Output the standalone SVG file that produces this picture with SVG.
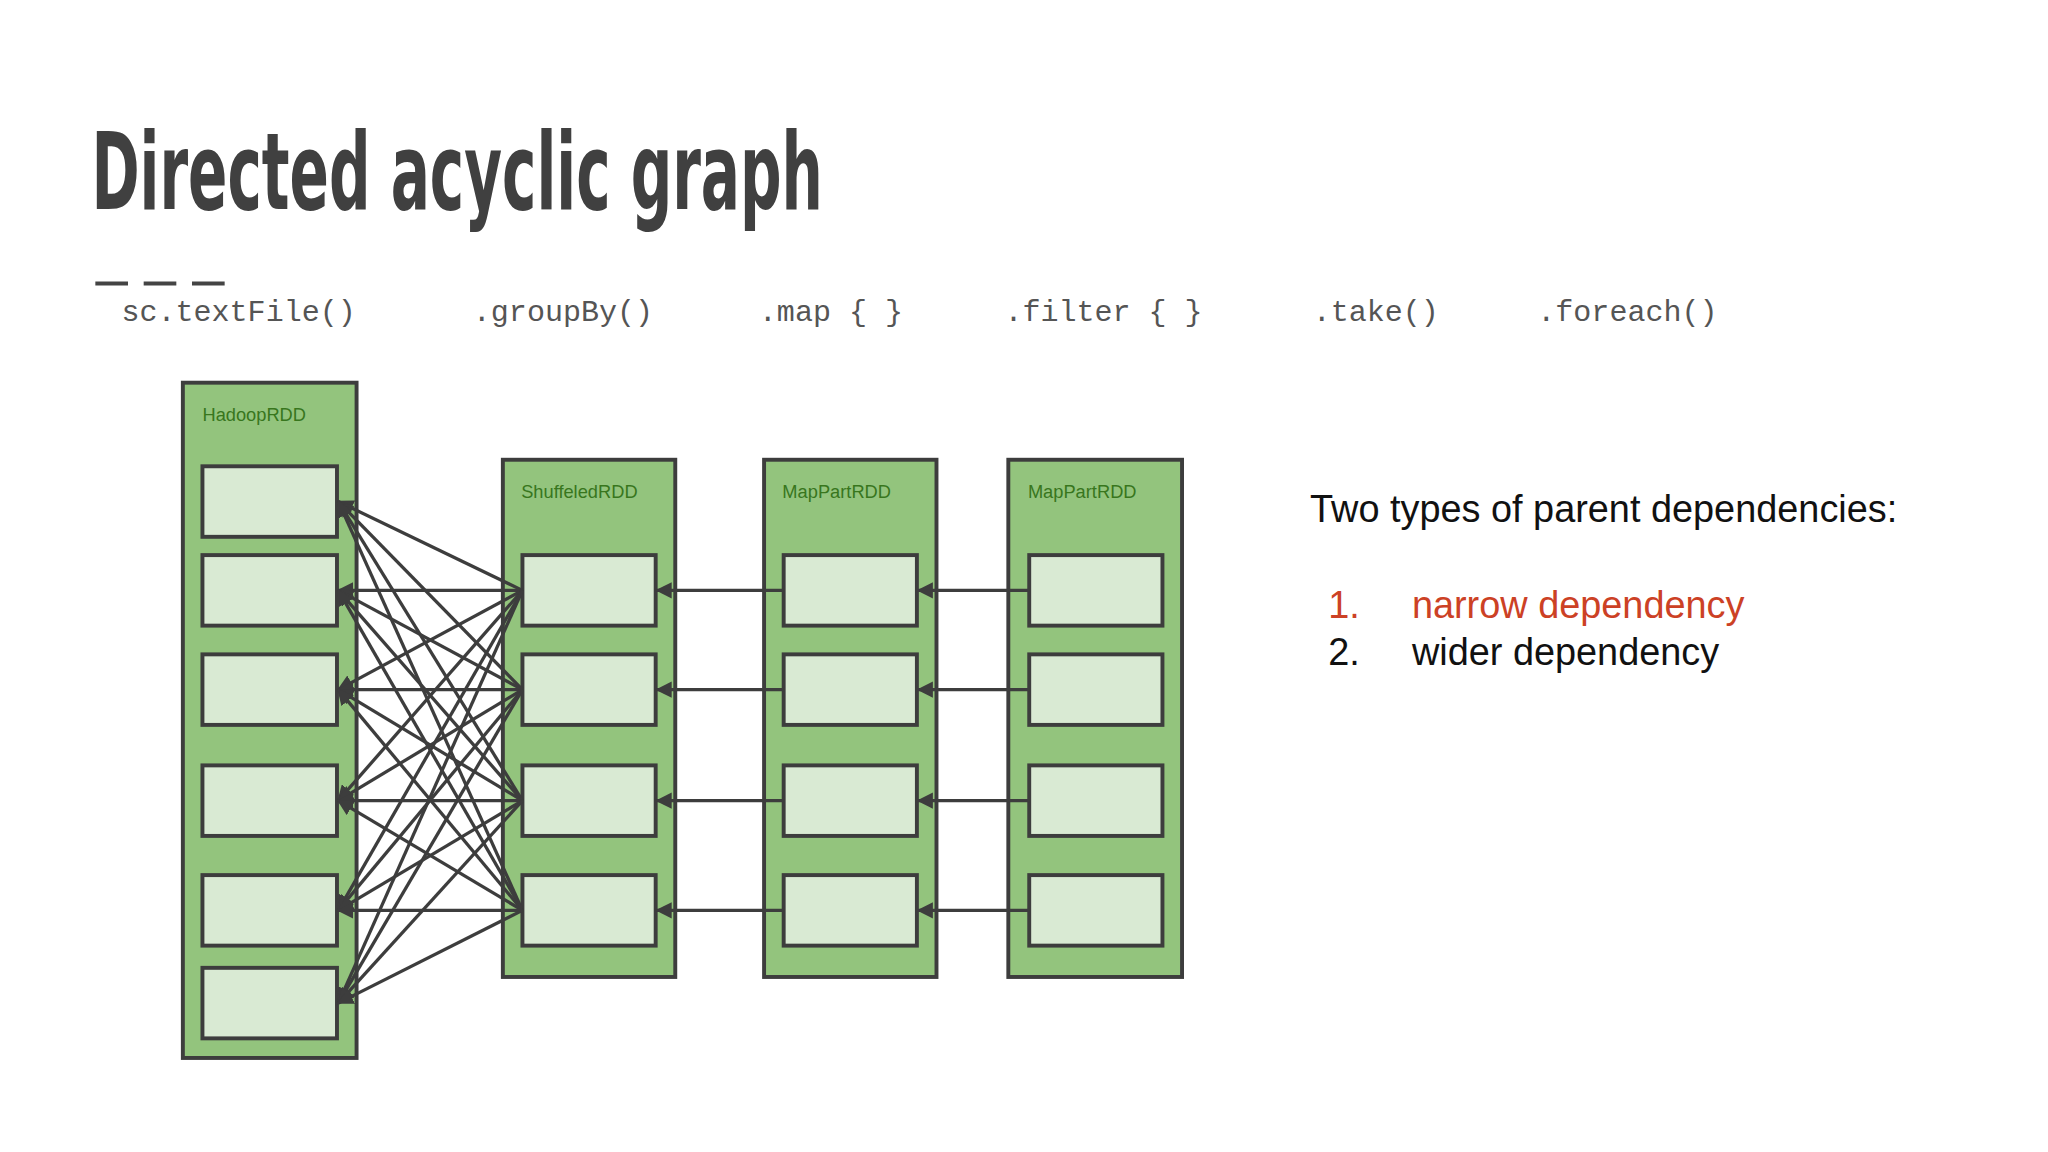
<svg xmlns="http://www.w3.org/2000/svg" width="2048" height="1152" viewBox="0 0 2048 1152">
<defs>
<style>
.outer{fill:#93c47d;stroke:#3d3d3d;stroke-width:3}
.cell{fill:#d9ead3;stroke:#3d3d3d;stroke-width:3}
.lbl{font-family:"Liberation Sans",Arial,sans-serif;font-size:14px;fill:#38761d}
.code{font-family:"Liberation Mono","Courier New",monospace;font-size:23px;fill:#555}
.body{font-family:"Liberation Sans",Arial,sans-serif;font-size:29px;fill:#111}
.conn line{stroke:#3d3d3d;stroke-width:2.5;marker-end:url(#ah)}
</style>
<marker id="ah" viewBox="0 0 10 10" refX="9" refY="5" markerWidth="5" markerHeight="5" orient="auto" markerUnits="strokeWidth"><path d="M0,0L10,5L0,10z" fill="#3d3d3d"/></marker>
</defs>
<rect width="2048" height="1152" fill="#fff"/>
<g transform="scale(1.30612)">
<text x="70" y="160" font-family="'DejaVu Sans Condensed','Liberation Sans',sans-serif" font-weight="bold" font-size="82" fill="#404040" textLength="560" lengthAdjust="spacingAndGlyphs">Directed acyclic graph</text>
<g stroke="#444" stroke-width="3"><line x1="73" y1="217" x2="98" y2="217"/><line x1="110" y1="217" x2="135" y2="217"/><line x1="147" y1="217" x2="172" y2="217"/></g>
<text class="code" x="93" y="246">sc.textFile()</text>
<text class="code" x="362" y="246">.groupBy()</text>
<text class="code" x="581" y="246">.map { }</text>
<text class="code" x="769" y="246">.filter { }</text>
<text class="code" x="1005" y="246">.take()</text>
<text class="code" x="1177" y="246">.foreach()</text>

<g id="hadoop">
<rect class="outer" x="140" y="293" width="133" height="517"/>
<text class="lbl" x="155" y="322">HadoopRDD</text>
<rect class="cell" x="155" y="357" width="103" height="54"/>
<rect class="cell" x="155" y="425" width="103" height="54"/>
<rect class="cell" x="155" y="501" width="103" height="54"/>
<rect class="cell" x="155" y="586" width="103" height="54"/>
<rect class="cell" x="155" y="670" width="103" height="54"/>
<rect class="cell" x="155" y="741" width="103" height="54"/>
</g>
<g id="shuffled">
<rect class="outer" x="385" y="352" width="132" height="396"/>
<text class="lbl" x="399" y="381">ShuffeledRDD</text>
<rect class="cell" x="400" y="425" width="102" height="54"/>
<rect class="cell" x="400" y="501" width="102" height="54"/>
<rect class="cell" x="400" y="586" width="102" height="54"/>
<rect class="cell" x="400" y="670" width="102" height="54"/>
</g>
<g id="map1">
<rect class="outer" x="585" y="352" width="132" height="396"/>
<text class="lbl" x="599" y="381">MapPartRDD</text>
<rect class="cell" x="600" y="425" width="102" height="54"/>
<rect class="cell" x="600" y="501" width="102" height="54"/>
<rect class="cell" x="600" y="586" width="102" height="54"/>
<rect class="cell" x="600" y="670" width="102" height="54"/>
</g>
<g id="map2">
<rect class="outer" x="772" y="352" width="133" height="396"/>
<text class="lbl" x="787" y="381">MapPartRDD</text>
<rect class="cell" x="788" y="425" width="102" height="54"/>
<rect class="cell" x="788" y="501" width="102" height="54"/>
<rect class="cell" x="788" y="586" width="102" height="54"/>
<rect class="cell" x="788" y="670" width="102" height="54"/>
</g>

<g class="conn" id="connectors">
<line x1="400" y1="452" x2="259" y2="384"/><line x1="400" y1="452" x2="259" y2="452"/><line x1="400" y1="452" x2="259" y2="528"/><line x1="400" y1="452" x2="259" y2="613"/><line x1="400" y1="452" x2="259" y2="697"/><line x1="400" y1="452" x2="259" y2="768"/>
<line x1="400" y1="528" x2="259" y2="384"/><line x1="400" y1="528" x2="259" y2="452"/><line x1="400" y1="528" x2="259" y2="528"/><line x1="400" y1="528" x2="259" y2="613"/><line x1="400" y1="528" x2="259" y2="697"/><line x1="400" y1="528" x2="259" y2="768"/>
<line x1="400" y1="613" x2="259" y2="384"/><line x1="400" y1="613" x2="259" y2="452"/><line x1="400" y1="613" x2="259" y2="528"/><line x1="400" y1="613" x2="259" y2="613"/><line x1="400" y1="613" x2="259" y2="697"/><line x1="400" y1="613" x2="259" y2="768"/>
<line x1="400" y1="697" x2="259" y2="384"/><line x1="400" y1="697" x2="259" y2="452"/><line x1="400" y1="697" x2="259" y2="528"/><line x1="400" y1="697" x2="259" y2="613"/><line x1="400" y1="697" x2="259" y2="697"/><line x1="400" y1="697" x2="259" y2="768"/>
<line x1="600" y1="452" x2="503" y2="452"/><line x1="600" y1="528" x2="503" y2="528"/><line x1="600" y1="613" x2="503" y2="613"/><line x1="600" y1="697" x2="503" y2="697"/>
<line x1="788" y1="452" x2="703" y2="452"/><line x1="788" y1="528" x2="703" y2="528"/><line x1="788" y1="613" x2="703" y2="613"/><line x1="788" y1="697" x2="703" y2="697"/>
</g>

<text class="body" x="1003" y="400">Two types of parent dependencies:</text>
<text class="body" x="1017" y="473" fill="#cc4125" style="fill:#cc4125">1.</text>
<text class="body" x="1081" y="473" style="fill:#cc4125">narrow dependency</text>
<text class="body" x="1017" y="509">2.</text>
<text class="body" x="1081" y="509">wider dependency</text>
</g>
</svg>
